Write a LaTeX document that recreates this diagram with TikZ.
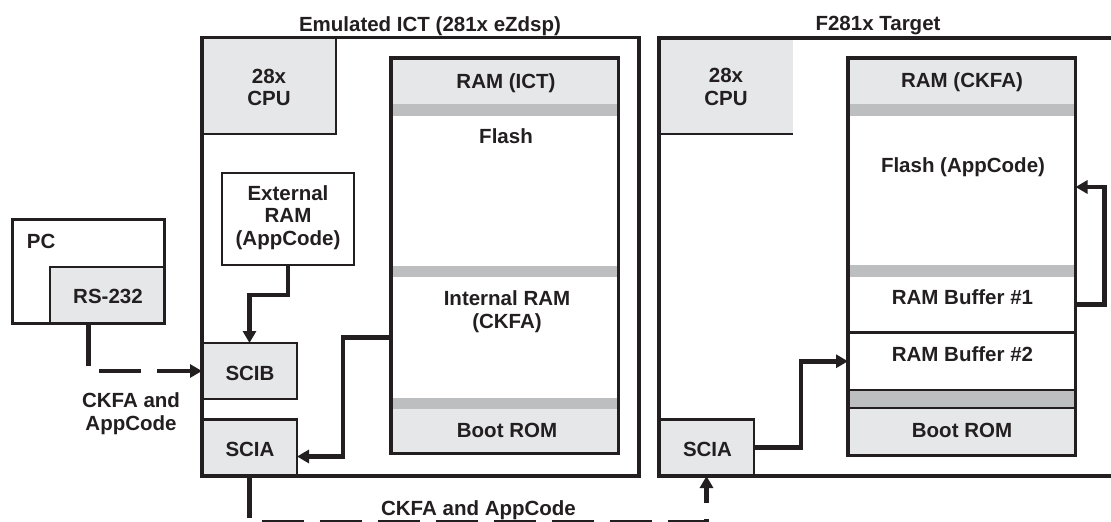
\documentclass[tikz,border=0pt]{standalone}
\usepackage{fontspec}
\setmainfont{Liberation Sans}
\usetikzlibrary{arrows.meta,calc}
\definecolor{ink}{HTML}{231F20}
\definecolor{lgray}{HTML}{E6E7E8}
\definecolor{dgray}{HTML}{BCBEC0}
\begin{document}
\begin{tikzpicture}[x=1pt,y=-1pt,
  every node/.style={inner sep=0pt, outer sep=0pt},
  txt/.style={anchor=base, text=ink, font=\fontsize{20.5}{24}\selectfont\bfseries},
  outerbox/.style={draw=ink, line width=3.6pt, anchor=north west},
  membox/.style={draw=ink, line width=3.3pt, anchor=north west, minimum width=227.5pt},
  blk/.style={draw=ink, fill=lgray, line width=2.4pt, anchor=north west},
  plainbox/.style={draw=ink, line width=2.4pt, anchor=north west},
  region/.style={anchor=north west, minimum width=227.5pt},
  wire/.style={draw=ink, line width=4.6pt, -{Triangle[length=12pt,width=13pt]}},
  dwire/.style={wire, dash pattern=on 42pt off 16pt},
  thinline/.style={draw=ink, line width=2.2pt}
]
\useasboundingbox (0,0) rectangle (1111,522);

% ---------- PC ----------
\node[plainbox, minimum width=152pt, minimum height=104pt] (pc) at (12.5,219.5) {};
\node[blk, minimum width=114.5pt, minimum height=56.5pt] (rs232) at (50,267) {};
\node[txt, anchor=base west] (pctxt) at (27,248) {PC};
\node[txt] (rstxt) at (108,303) {RS-232};
\node[txt] (lbl1a) at (131,407) {CKFA and};
\node[txt] (lbl1b) at (131,430) {AppCode};

% ---------- Emulated ICT ----------
\node[blk, minimum width=134pt, minimum height=96.5pt] (cpu1) at (202,37.5) {};
\node[plainbox, minimum width=132pt, minimum height=92pt] (ext) at (222,173) {};
\node[blk, minimum width=95pt, minimum height=56pt] (scib) at (202,343) {};
\node[blk, minimum width=95pt, minimum height=56.5pt] (scia1) at (202,419.5) {};
% memory bands
\fill[lgray] (391,58) rectangle (618.5,104);
\fill[dgray] (391,104) rectangle (618.5,116);
\fill[dgray] (391,266) rectangle (618.5,277);
\fill[dgray] (391,398) rectangle (618.5,409);
\fill[lgray] (391,409) rectangle (618.5,453.5);
\node[region, minimum height=121pt] (iram) at (391,277) {};
\node[membox, minimum height=395.5pt] (mem1) at (391,58) {};
\node[outerbox, minimum width=437pt, minimum height=438.5pt] (ict) at (202,37.5) {};

\node[txt] (ttl1) at (430,31) {Emulated ICT (281x eZdsp)};
\node[txt] (cpu1a) at (269,83) {28x};
\node[txt] (cpu1b) at (269,105) {CPU};
\node[txt] (ext1) at (288,200) {External};
\node[txt] (ext2) at (288,222) {RAM};
\node[txt] (ext3) at (288,245) {(AppCode)};
\node[txt] (scibtxt) at (250,380) {SCIB};
\node[txt] (scia1txt) at (250,456) {SCIA};
\node[txt] (ramict) at (506,88) {RAM (ICT)};
\node[txt] (flash1) at (506,143) {Flash};
\node[txt] (iram1) at (507,305) {Internal RAM};
\node[txt] (iram2) at (507,328) {(CKFA)};
\node[txt] (boot1) at (507,437) {Boot ROM};

% ---------- F281x Target ----------
\node[anchor=north west, fill=lgray, minimum width=134pt, minimum height=96pt] (cpu2) at (659,38) {};
\draw[thinline] (cpu2.south west) -- (cpu2.south east);
\node[blk, minimum width=95pt, minimum height=56.5pt] (scia2) at (659,419.5) {};
\fill[lgray] (848,58) rectangle (1075.5,104);
\fill[dgray] (848,104) rectangle (1075.5,116);
\fill[dgray] (848,265) rectangle (1075.5,277);
\fill[dgray] (848,390) rectangle (1075.5,408);
\fill[lgray] (848,408) rectangle (1075.5,455.5);
\node[region, minimum height=149pt] (flash2) at (848,116) {};
\node[region, minimum height=55.5pt] (buf1) at (848,277) {};
\node[region, minimum height=57.5pt] (buf2) at (848,332.5) {};
\draw[thinline] (buf1.south west) -- (buf1.south east);
\draw[thinline] (buf2.south west) -- (buf2.south east);
\draw[thinline] (848,408) -- (1075.5,408);
\node[membox, minimum height=397.5pt] (mem2) at (848,58) {};
\node[outerbox, minimum width=501pt, minimum height=438pt] (tgt) at (659,38) {};

\node[txt] (ttl2) at (878,30.5) {F281x Target};
\node[txt] (cpu2a) at (726,82) {28x};
\node[txt] (cpu2b) at (726,105) {CPU};
\node[txt] (scia2txt) at (707.5,456) {SCIA};
\node[txt] (ramckfa) at (962,87) {RAM (CKFA)};
\node[txt] (flash2txt) at (963,172) {Flash (AppCode)};
\node[txt] (buf1txt) at (962.5,304) {RAM Buffer \#1};
\node[txt] (buf2txt) at (962.5,361) {RAM Buffer \#2};
\node[txt] (boot2) at (962,437) {Boot ROM};

\node[txt] (lbl2) at (478.5,515) {CKFA and AppCode};

% ---------- connectors ----------
\draw[wire] (ext.south) -- ++(0,30) -| (scib.north);
\draw[wire] (iram.west) -- ++(-48,0) |- ($(scia1.east)+(0,8.75)$);
\draw[dwire] ($(rs232.south)+(-18.75,0)$) |- (scib.west);
\draw[dwire] (scia1.south) -- ++(0,46) -| (scia2.south);
\draw[wire] (scia2.east) -- ++(47,0) |- (buf2.west);
\draw[wire] (buf1.east) -- ++(29,0) |- ($(flash2.east)+(0,-3.5)$);
\end{tikzpicture}
\end{document}
